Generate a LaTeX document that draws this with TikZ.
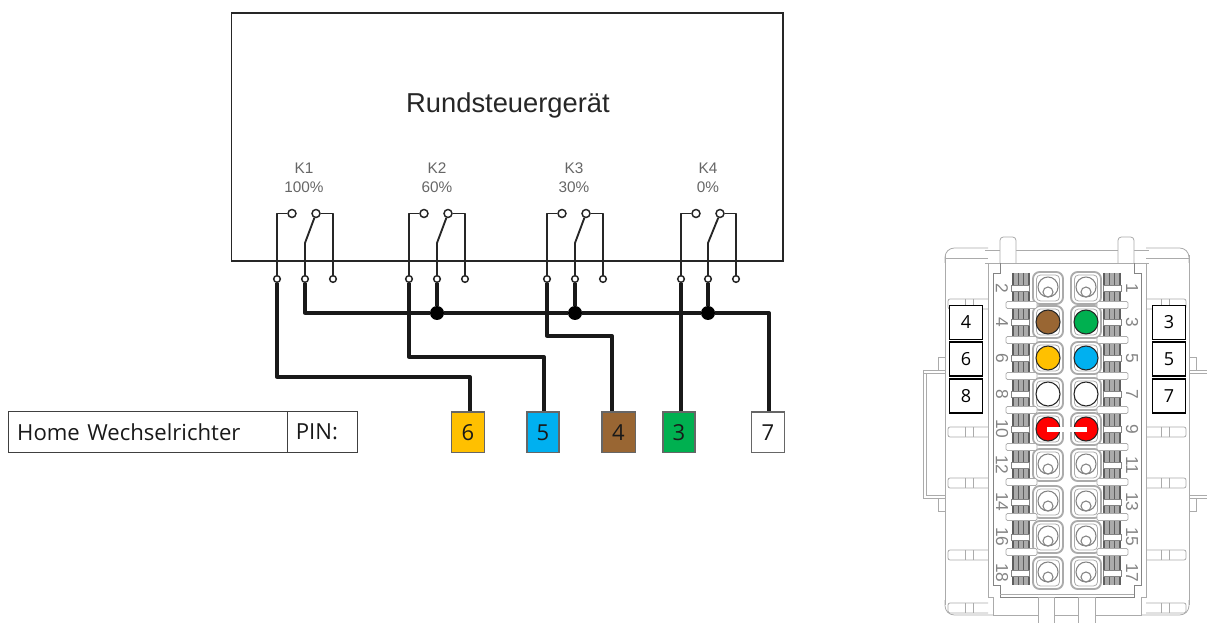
\documentclass[tikz,border=0pt]{standalone}
\usepackage{fontspec}
\setmainfont{Liberation Sans}
\newfontfamily\opensans{Open Sans}
\usetikzlibrary{calc}
\definecolor{pbrown}{HTML}{996633}
\definecolor{pgreen}{HTML}{00B050}
\definecolor{pyellow}{HTML}{FFC000}
\definecolor{pblue}{HTML}{00B0F0}
\definecolor{pgrey}{HTML}{848484}
\definecolor{plgrey}{HTML}{ABABAB}
\definecolor{pdgrey}{HTML}{5E5E5E}
\tikzset{
  x=0.75pt,y=-0.75pt,
  thinwire/.style={draw=black!85,line width=1.4pt,line join=round},
  wire/.style={draw=black!90,line width=2.5pt,line join=round},
  term/.style={circle,draw=black!85,fill=white,line width=1.1pt,inner sep=0pt,minimum size=5pt},
  contact/.style={circle,draw=black!85,fill=white,line width=1.1pt,inner sep=0pt,minimum size=6pt},
  junction/.style={circle,fill=black,inner sep=0pt,minimum size=10.5pt},
  klabel/.style={text=black!60,font=\fontsize{11.5}{13}\selectfont,inner sep=0pt},
  pinbox/.style={draw=black!60,line width=1pt,minimum width=24.5pt,minimum height=30.5pt,inner sep=0pt,
     font=\opensans\fontsize{16.5}{19}\selectfont,text=black!90},
  tablebox/.style={draw=black!75,line width=0.8pt,minimum height=30.5pt,inner sep=0pt,
     font=\opensans\fontsize{16.6}{19}\selectfont,text=black!90},
  sidebox/.style={draw=black,fill=white,line width=0.8pt,minimum width=25pt,minimum height=25.5pt,inner sep=0pt,
     font=\opensans\fontsize{13.5}{16}\selectfont},
  cl/.style={draw=plgrey,line width=0.6pt},
  cd/.style={draw=pgrey,line width=0.7pt},
  hatch/.style={draw=pdgrey,line width=0.9pt},
  pad/.style={draw=plgrey,line width=1.4pt,rounded corners=5pt,fill=white},
  hole/.style={draw=pgrey,line width=0.8pt,fill=white},
  cnum/.style={text=pgrey,font=\fontsize{13}{14}\selectfont,inner sep=0pt,rotate=-90},
  cpin/.style={draw=black!85,line width=0.8pt},
}
\begin{document}
\begin{tikzpicture}
\useasboundingbox (0,0) rectangle (1207,623);

% ---------- control unit
\node[draw=black!85,line width=1.3pt,minimum width=413.5pt,minimum height=185.5pt,inner sep=0pt,anchor=north west] (unit) at (230.5,12.5) {};
\node[inner sep=0pt,text=black!85,font=\fontsize{20.5}{24}\selectfont] (title) at (508,105.5) {Rundsteuergerät};

\foreach \n/\l/\a/\b/\m/\r/\lx/\kt/\pt in {
  1/277/292/316/305/333/304/K1/100\%,
  2/409/424/448/437/465/437/K2/60\%,
  3/547/562/586/575/603/574/K3/30\%,
  4/681/696/720/708/736/708/K4/0\%}{
  \node[klabel] (kn\n) at (\lx,168) {\kt};
  \node[klabel] (kp\n) at (\lx,187) {\pt};
  \node[term] (tl\n) at (\l,279) {};
  \node[term] (tm\n) at (\m,279) {};
  \node[term] (tr\n) at (\r,279) {};
  \node[contact] (ca\n) at (\a,213.5) {};
  \node[contact] (cb\n) at (\b,213.5) {};
  \coordinate (bend\n) at (\m,243);
  \draw[thinwire] (tl\n) |- (ca\n);
  \draw[thinwire] (tm\n) -- (bend\n) -- (cb\n);
  \draw[thinwire] (tr\n) |- (cb\n);
}

% ---------- pins
\node[pinbox,fill=pyellow,minimum width=25pt] (pin6) at (468,432.5) {6};
\node[pinbox,fill=pblue,minimum width=24pt]  (pin5) at (543,432.5) {5};
\node[pinbox,fill=pbrown,minimum width=25pt] (pin4) at (618.5,432.5) {4};
\node[pinbox,fill=pgreen,minimum width=24pt] (pin3) at (679,432.5) {3};
\node[pinbox,fill=white,minimum width=25pt]  (pin7) at (768,432.5) {7};

% ---------- table
\node[tablebox,minimum width=209pt,anchor=north west,text width=196pt,align=left] (home) at (8,411) {Home Wechselrichter};
\node[tablebox,minimum width=52.5pt,anchor=north west,text width=40pt,align=left] (pinlabel) at (287,411) {PIN:};

% ---------- wires
\node[junction] (j2) at (437,313) {};
\node[junction] (j3) at (575,313) {};
\node[junction] (j4) at (708,313) {};
\coordinate (bus0) at (305,313);
\coordinate (bus7) at (769,313);
\coordinate (b6) at (470,377);
\coordinate (b5) at (544,357);
\coordinate (b4) at (612,336);
\draw[wire] (tm1) -- (bus0) -- (j2) -- (j3) -- (j4) -- (bus7) -- (pin7.north -| bus7);
\draw[wire] (tm2) -- (j2);
\draw[wire] (tm3) -- (j3);
\draw[wire] (tm4) -- (j4);
\draw[wire] (tl1) |- (b6) -- (pin6.north -| b6);
\draw[wire] (tl2) |- (b5) -- (pin5.north -| b5);
\draw[wire] (tl3) |- (b4) -- (pin4.north -| b4);
\draw[wire] (tl4) -- (pin3.north -| tl4);

% ---------- connector drawing
% outer body
\draw[cl,rounded corners=7pt] (945,263) -- (945,248) -- (988,248) (945,600) -- (945,615) -- (993,615);
\draw[cl] (945,255) -- (945,605);
\draw[cl,rounded corners=7pt] (1189,263) -- (1189,248) -- (1146,248) (1189,600) -- (1189,615) -- (1141,615);
\draw[cl] (1189,255) -- (1189,605);
\draw[cl] (945,258) -- (988,258) (1146,258) -- (1189,258);
% top bar and tabs
\draw[cl] (985,250) -- (1149,250) (985,263) -- (1149,263);
\draw[cl,fill=white,rounded corners=2.5pt] (1000,263) -- (1000,237) -- (1016,237) -- (1016,263);
\draw[cl,fill=white,rounded corners=2.5pt] (1118,263) -- (1118,237) -- (1134,237) -- (1134,263);
% side wings
\draw[cl] (923,370) -- (945,370) (923,373) -- (945,373) (923,370) -- (923,498) -- (945,498) (926,373) -- (926,495) -- (945,495);
\draw[cl] (938,370) -- (938,357) -- (945,357) (938,498) -- (938,511) -- (945,511);
\draw[cl] (1207,370) -- (1189,370) (1207,373) -- (1189,373) (1207,495) -- (1189,495) (1207,498) -- (1189,498);
\draw[cl] (1196,370) -- (1196,357) -- (1189,357) (1196,498) -- (1196,511) -- (1189,511);
% inner frames
\draw[cl] (988,263) -- (988,597) -- (993,597) (1146,263) -- (1146,597) -- (1141,597);
\draw[cd] (1000,263) -- (1000,273) -- (993,273) -- (993,585) -- (1000,585) -- (1000,597) -- (1134,597) -- (1134,585) -- (1141,585) -- (1141,273) -- (1134,273) -- (1134,263);
\draw[cl] (1000,594) -- (1134,594);
% bottom ledge and tabs
\draw[cl] (993,597) -- (993,615) -- (1141,615) -- (1141,597);
\draw[cl,fill=white] (1038,623) -- (1038,597) -- (1054,597) -- (1054,623);
\draw[cl,fill=white] (1078,623) -- (1078,597) -- (1095,597) -- (1095,623);
% ribs on the sides
\foreach \y in {304,432,483,555,608}{
  \draw[cl,rounded corners=1.5pt] (988,\y-5) -- (948,\y-5) -- (948,\y+5) -- (988,\y+5);
  \draw[cl,rounded corners=1.5pt] (1146,\y-5) -- (1186,\y-5) -- (1186,\y+5) -- (1146,\y+5);
  \draw[cl] (965,\y-5) -- (965,\y+5) (973,\y-5) -- (973,\y+5) (1161,\y-5) -- (1161,\y+5) (1169,\y-5) -- (1169,\y+5);
}
% dark strips
\foreach \sx in {1013,1104}{
  \fill[plgrey] (\sx,273) rectangle (\sx+16,585);
  \foreach \dx in {0,5.3,10.6,16}{ \draw[hatch] (\sx+\dx,273) -- (\sx+\dx,585); }
}
% contact terminal marks, numbers, pads
\foreach \y/\lt/\rt in {288/2/1,322/4/3,358/6/5,394/8/7,429/10/9,465/12/11,502/14/13,537/16/15,573/18/17}{
  \draw[cd,fill=white] (1011,\y-3) rectangle (1029,\y+3);
  \draw[cd,fill=white] (1103,\y-3) rectangle (1121,\y+3);
  \node[cnum] (nl\lt) at (1002,\y) {\lt};
  \node[cnum] (nr\rt) at (1132,\y) {\rt};
  \foreach \cx in {1048,1086}{
    \draw[pad] (\cx-15,\y-16) rectangle (\cx+15,\y+16);
    \draw[cl,rounded corners=3pt] (\cx-11.5,\y-13) rectangle (\cx+11.5,\y+13);
    \draw[hole] (\cx,\y-1) circle[radius=10];
    \draw[hole] (\cx,\y+4) circle[radius=5];
  }
}
% separators
\foreach \y in {305,340,376,410,447,482,517,552}{
  \draw[cl,fill=white,rounded corners=1pt] (1006,\y-3.5) rectangle (1037,\y+3.5);
  \draw[cl,fill=white,rounded corners=1pt] (1097,\y-3.5) rectangle (1128,\y+3.5);
}
% coloured contacts
\foreach \cx/\y/\c in {1048/322/pbrown,1086/322/pgreen,1048/358/pyellow,1086/358/pblue,1048/394/white,1086/394/white,1048/429/red,1086/429/red}{
  \draw[cpin,fill=\c] (\cx,\y) circle[radius=12];
}
\fill[white] (1047,427) rectangle (1087,432);
% side labels
\node[sidebox] (s4) at (966,322.5) {4};
\node[sidebox] (s6) at (966,359) {6};
\node[sidebox] (s8) at (966,396) {8};
\node[sidebox] (s3) at (1169,322.5) {3};
\node[sidebox] (s5) at (1169,359) {5};
\node[sidebox] (s7) at (1169,396) {7};
\end{tikzpicture}
\end{document}
